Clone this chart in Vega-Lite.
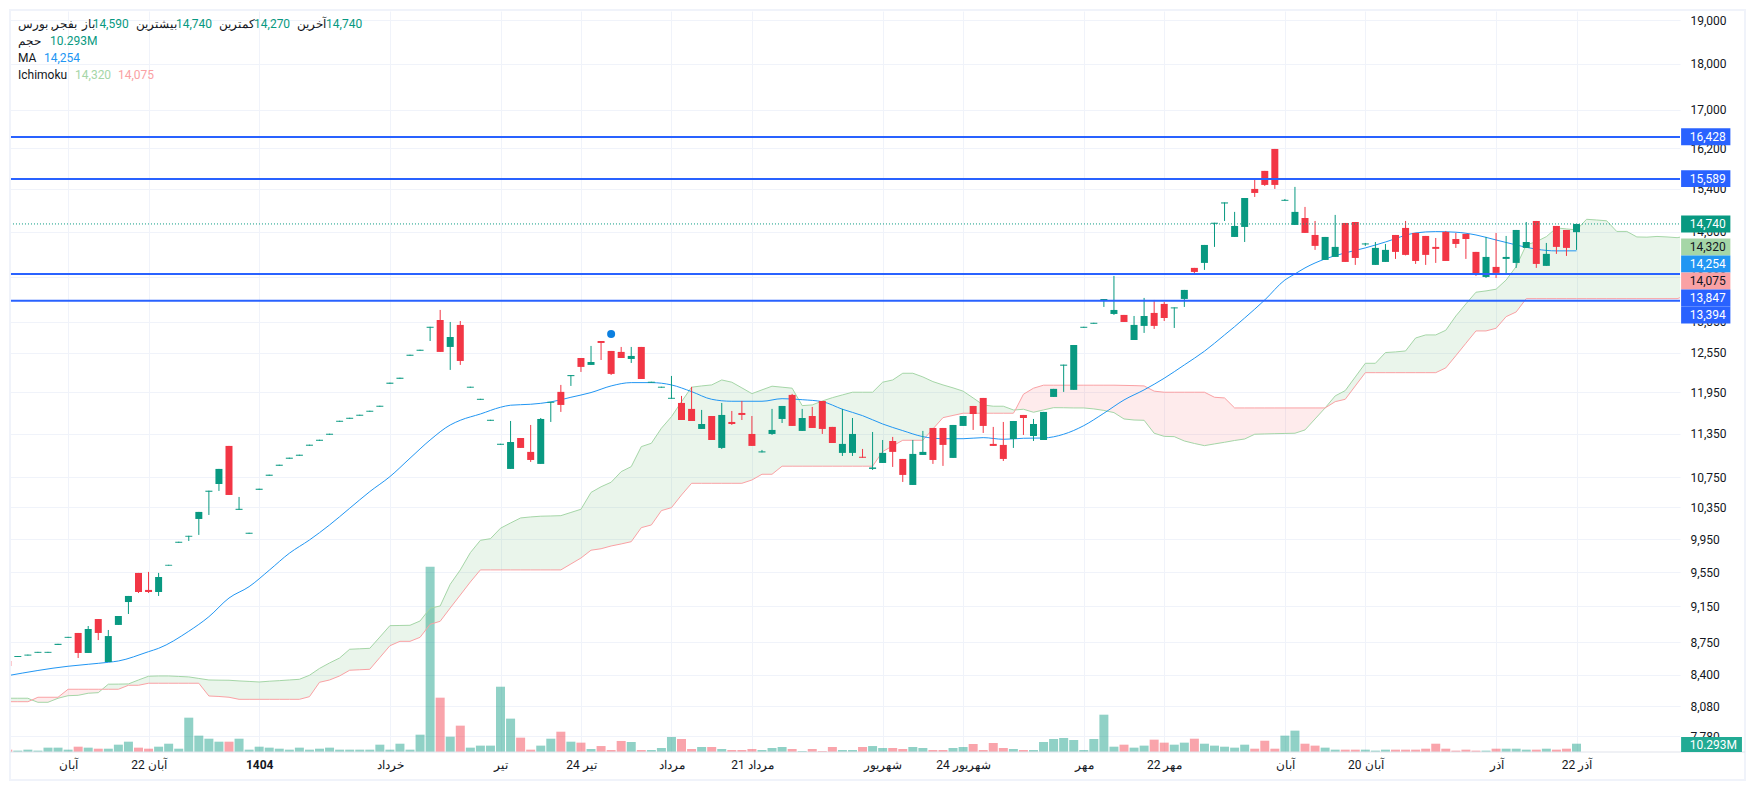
{
"$schema":"https://vega.github.io/schema/vega-lite/v6.json",
"width":1670,"height":741,"autosize":"none",
"padding":{"left":10,"top":11,"right":77,"bottom":38},
"background":"#ffffff",
"config":{"view":{"stroke":null},"font":"Roboto"},
"datasets":{
"candles":[
{"i":0,"o":8546,"h":8546,"l":8494,"c":8494,"v":2.9,"d":"d"},
{"i":1,"o":8590,"h":8600,"l":8590,"c":8600,"v":1.7,"d":"u"},
{"i":2,"o":8605,"h":8615,"l":8605,"c":8615,"v":2.9,"d":"u"},
{"i":3,"o":8635,"h":8645,"l":8635,"c":8645,"v":1.7,"d":"u"},
{"i":4,"o":8635,"h":8645,"l":8635,"c":8645,"v":5.4,"d":"u"},
{"i":5,"o":8720,"h":8732,"l":8720,"c":8732,"v":5.4,"d":"u"},
{"i":6,"o":8798,"h":8808,"l":8798,"c":8808,"v":2.9,"d":"u"},
{"i":7,"o":8851,"h":8851,"l":8579,"c":8633,"v":6.6,"d":"d"},
{"i":8,"o":8633,"h":8928,"l":8633,"c":8895,"v":5.4,"d":"u"},
{"i":9,"o":9006,"h":9006,"l":8773,"c":8851,"v":4.1,"d":"d"},
{"i":10,"o":8536,"h":8884,"l":8536,"c":8817,"v":4.1,"d":"u"},
{"i":11,"o":8940,"h":9040,"l":8940,"c":9040,"v":9.1,"d":"u"},
{"i":12,"o":9199,"h":9269,"l":9063,"c":9269,"v":12.8,"d":"u"},
{"i":13,"o":9539,"h":9539,"l":9303,"c":9315,"v":5.4,"d":"d"},
{"i":14,"o":9339,"h":9551,"l":9303,"c":9315,"v":4.1,"d":"d"},
{"i":15,"o":9315,"h":9539,"l":9269,"c":9491,"v":6.6,"d":"u"},
{"i":16,"o":9626,"h":9636,"l":9626,"c":9636,"v":10.3,"d":"u"},
{"i":17,"o":9905,"h":9917,"l":9905,"c":9917,"v":4.1,"d":"u"},
{"i":18,"o":9980,"h":9991,"l":9927,"c":9991,"v":42.6,"d":"u"},
{"i":19,"o":10203,"h":10293,"l":10002,"c":10293,"v":20.3,"d":"u"},
{"i":20,"o":10555,"h":10569,"l":10254,"c":10569,"v":16.5,"d":"u"},
{"i":21,"o":10658,"h":10860,"l":10566,"c":10860,"v":12.8,"d":"u"},
{"i":22,"o":11176,"h":11176,"l":10513,"c":10513,"v":12.8,"d":"d"},
{"i":23,"o":10320,"h":10487,"l":10320,"c":10333,"v":16.5,"d":"u"},
{"i":24,"o":10017,"h":10029,"l":10017,"c":10029,"v":2.9,"d":"u"},
{"i":25,"o":10581,"h":10595,"l":10581,"c":10595,"v":6.6,"d":"u"},
{"i":26,"o":10768,"h":10782,"l":10768,"c":10782,"v":5.4,"d":"u"},
{"i":27,"o":10903,"h":10917,"l":10903,"c":10917,"v":4.1,"d":"u"},
{"i":28,"o":10999,"h":11013,"l":10999,"c":11013,"v":2.9,"d":"u"},
{"i":29,"o":11040,"h":11054,"l":11040,"c":11054,"v":5.4,"d":"u"},
{"i":30,"o":11179,"h":11193,"l":11179,"c":11193,"v":2.9,"d":"u"},
{"i":31,"o":11248,"h":11262,"l":11248,"c":11262,"v":4.1,"d":"u"},
{"i":32,"o":11333,"h":11347,"l":11333,"c":11347,"v":5.4,"d":"u"},
{"i":33,"o":11518,"h":11532,"l":11518,"c":11532,"v":2.9,"d":"u"},
{"i":34,"o":11561,"h":11575,"l":11561,"c":11575,"v":2.9,"d":"u"},
{"i":35,"o":11605,"h":11619,"l":11605,"c":11619,"v":2.9,"d":"u"},
{"i":36,"o":11663,"h":11677,"l":11663,"c":11677,"v":2.9,"d":"u"},
{"i":37,"o":11736,"h":11750,"l":11736,"c":11750,"v":9.1,"d":"u"},
{"i":38,"o":12077,"h":12093,"l":12077,"c":12093,"v":2.9,"d":"u"},
{"i":39,"o":12152,"h":12168,"l":12152,"c":12168,"v":10.3,"d":"u"},
{"i":40,"o":12506,"h":12522,"l":12506,"c":12522,"v":2.9,"d":"u"},
{"i":41,"o":12584,"h":12600,"l":12584,"c":12600,"v":21.5,"d":"u"},
{"i":42,"o":12950,"h":12966,"l":12738,"c":12966,"v":230,"d":"u"},
{"i":43,"o":13076,"h":13241,"l":12566,"c":12566,"v":67.4,"d":"d"},
{"i":44,"o":12644,"h":13044,"l":12287,"c":12802,"v":19,"d":"u"},
{"i":45,"o":12996,"h":13060,"l":12364,"c":12425,"v":32.7,"d":"d"},
{"i":46,"o":12018,"h":12032,"l":12018,"c":12032,"v":5.4,"d":"u"},
{"i":47,"o":11838,"h":11852,"l":11838,"c":11852,"v":7.9,"d":"u"},
{"i":48,"o":11532,"h":11546,"l":11532,"c":11546,"v":7.9,"d":"u"},
{"i":49,"o":11192,"h":11206,"l":11192,"c":11206,"v":81,"d":"u"},
{"i":50,"o":10860,"h":11529,"l":10860,"c":11231,"v":41.4,"d":"u"},
{"i":51,"o":11287,"h":11287,"l":11148,"c":11148,"v":17.8,"d":"d"},
{"i":52,"o":11093,"h":11472,"l":10955,"c":10982,"v":2.9,"d":"d"},
{"i":53,"o":10928,"h":11572,"l":10928,"c":11558,"v":7.9,"d":"u"},
{"i":54,"o":11794,"h":11808,"l":11515,"c":11808,"v":16.5,"d":"u"},
{"i":55,"o":11955,"h":12059,"l":11660,"c":11762,"v":25.2,"d":"d"},
{"i":56,"o":12192,"h":12208,"l":12044,"c":12208,"v":12.8,"d":"u"},
{"i":57,"o":12471,"h":12471,"l":12256,"c":12333,"v":11.6,"d":"d"},
{"i":58,"o":12364,"h":12660,"l":12364,"c":12409,"v":3.7,"d":"u"},
{"i":59,"o":12738,"h":12738,"l":12440,"c":12707,"v":7.4,"d":"d"},
{"i":60,"o":12581,"h":12581,"l":12210,"c":12226,"v":2.5,"d":"d"},
{"i":61,"o":12566,"h":12644,"l":12471,"c":12471,"v":13.7,"d":"d"},
{"i":62,"o":12456,"h":12644,"l":12394,"c":12503,"v":12.4,"d":"u"},
{"i":63,"o":12644,"h":12644,"l":12149,"c":12149,"v":2.5,"d":"d"},
{"i":64,"o":12093,"h":12107,"l":12093,"c":12107,"v":2.5,"d":"u"},
{"i":65,"o":12018,"h":12032,"l":12018,"c":12032,"v":5,"d":"u"},
{"i":66,"o":11853,"h":12195,"l":11853,"c":11867,"v":18.6,"d":"u"},
{"i":67,"o":11791,"h":11895,"l":11543,"c":11543,"v":16.1,"d":"d"},
{"i":68,"o":11704,"h":12030,"l":11529,"c":11529,"v":3.7,"d":"d"},
{"i":69,"o":11415,"h":11689,"l":11415,"c":11486,"v":6.2,"d":"u"},
{"i":70,"o":11601,"h":11601,"l":11259,"c":11259,"v":6.2,"d":"d"},
{"i":71,"o":11148,"h":11791,"l":11134,"c":11616,"v":3.7,"d":"u"},
{"i":72,"o":11515,"h":11674,"l":11472,"c":11486,"v":2.5,"d":"d"},
{"i":73,"o":11645,"h":11820,"l":11543,"c":11616,"v":2.5,"d":"d"},
{"i":74,"o":11344,"h":11601,"l":11176,"c":11176,"v":3.7,"d":"d"},
{"i":75,"o":11086,"h":11120,"l":11086,"c":11100,"v":2.5,"d":"u"},
{"i":76,"o":11344,"h":11704,"l":11330,"c":11401,"v":5,"d":"u"},
{"i":77,"o":11558,"h":11747,"l":11500,"c":11747,"v":6.2,"d":"u"},
{"i":78,"o":11910,"h":11925,"l":11458,"c":11458,"v":3.7,"d":"d"},
{"i":79,"o":11387,"h":11704,"l":11387,"c":11572,"v":1.2,"d":"u"},
{"i":80,"o":11601,"h":11733,"l":11429,"c":11429,"v":3.7,"d":"d"},
{"i":81,"o":11820,"h":11820,"l":11344,"c":11415,"v":1.2,"d":"d"},
{"i":82,"o":11444,"h":11444,"l":11217,"c":11217,"v":6.2,"d":"d"},
{"i":83,"o":11079,"h":11704,"l":11037,"c":11204,"v":2.5,"d":"u"},
{"i":84,"o":11079,"h":11572,"l":11037,"c":11344,"v":2.5,"d":"u"},
{"i":85,"o":11026,"h":11134,"l":11012,"c":11012,"v":6.2,"d":"d"},
{"i":86,"o":10860,"h":11372,"l":10846,"c":10880,"v":7.4,"d":"u"},
{"i":87,"o":10941,"h":11259,"l":10941,"c":11079,"v":5,"d":"u"},
{"i":88,"o":11245,"h":11302,"l":10887,"c":11093,"v":5,"d":"d"},
{"i":89,"o":10996,"h":10996,"l":10685,"c":10779,"v":3.7,"d":"d"},
{"i":90,"o":10645,"h":11259,"l":10645,"c":11065,"v":6.2,"d":"u"},
{"i":91,"o":11051,"h":11387,"l":11051,"c":11093,"v":5,"d":"u"},
{"i":92,"o":11429,"h":11429,"l":10928,"c":10982,"v":2.5,"d":"d"},
{"i":93,"o":11429,"h":11429,"l":10901,"c":11190,"v":2.5,"d":"d"},
{"i":94,"o":11010,"h":11472,"l":11010,"c":11472,"v":5,"d":"u"},
{"i":95,"o":11458,"h":11601,"l":11458,"c":11601,"v":6.2,"d":"u"},
{"i":96,"o":11747,"h":11747,"l":11401,"c":11630,"v":9.9,"d":"d"},
{"i":97,"o":11865,"h":11865,"l":11358,"c":11458,"v":2.5,"d":"d"},
{"i":98,"o":11204,"h":11444,"l":11176,"c":11176,"v":11.2,"d":"d"},
{"i":99,"o":11190,"h":11515,"l":10968,"c":10996,"v":5,"d":"d"},
{"i":100,"o":11273,"h":11529,"l":11148,"c":11529,"v":3.7,"d":"u"},
{"i":101,"o":11616,"h":11616,"l":11330,"c":11572,"v":2.5,"d":"d"},
{"i":102,"o":11316,"h":11558,"l":11245,"c":11486,"v":2.5,"d":"u"},
{"i":103,"o":11259,"h":11660,"l":11259,"c":11660,"v":12.4,"d":"u"},
{"i":104,"o":11880,"h":12000,"l":11880,"c":12000,"v":16.1,"d":"u"},
{"i":105,"o":12352,"h":12368,"l":11955,"c":12368,"v":17.4,"d":"u"},
{"i":106,"o":11985,"h":12675,"l":11985,"c":12675,"v":14.9,"d":"u"},
{"i":107,"o":12950,"h":12966,"l":12950,"c":12966,"v":2.5,"d":"u"},
{"i":108,"o":13015,"h":13031,"l":13015,"c":13031,"v":16.1,"d":"u"},
{"i":109,"o":13407,"h":13423,"l":13291,"c":13423,"v":46.3,"d":"u"},
{"i":110,"o":13175,"h":13815,"l":13159,"c":13241,"v":6.6,"d":"u"},
{"i":111,"o":13159,"h":13159,"l":13044,"c":13044,"v":9.1,"d":"d"},
{"i":112,"o":12754,"h":13142,"l":12754,"c":12996,"v":5.4,"d":"u"},
{"i":113,"o":12980,"h":13441,"l":12867,"c":13142,"v":7.9,"d":"u"},
{"i":114,"o":13192,"h":13407,"l":12931,"c":12980,"v":15.3,"d":"d"},
{"i":115,"o":13341,"h":13374,"l":13060,"c":13109,"v":11.6,"d":"d"},
{"i":116,"o":13267,"h":13283,"l":12947,"c":13283,"v":9.1,"d":"u"},
{"i":117,"o":13424,"h":13576,"l":13291,"c":13576,"v":11.6,"d":"u"},
{"i":118,"o":13954,"h":13954,"l":13849,"c":13884,"v":16.5,"d":"d"},
{"i":119,"o":14041,"h":14359,"l":13919,"c":14359,"v":10.3,"d":"u"},
{"i":120,"o":14744,"h":14762,"l":14324,"c":14762,"v":7.9,"d":"u"},
{"i":121,"o":15121,"h":15141,"l":14795,"c":15141,"v":6.6,"d":"u"},
{"i":122,"o":14503,"h":14963,"l":14503,"c":14703,"v":5.4,"d":"u"},
{"i":123,"o":14685,"h":15225,"l":14412,"c":15225,"v":9.1,"d":"u"},
{"i":124,"o":15398,"h":15571,"l":15245,"c":15321,"v":4.1,"d":"d"},
{"i":125,"o":15748,"h":15748,"l":15456,"c":15475,"v":14,"d":"d"},
{"i":126,"o":16185,"h":16185,"l":15398,"c":15475,"v":4.1,"d":"d"},
{"i":127,"o":15172,"h":15206,"l":15172,"c":15190,"v":20.3,"d":"u"},
{"i":128,"o":14722,"h":15437,"l":14722,"c":14963,"v":26.5,"d":"u"},
{"i":129,"o":14850,"h":15056,"l":14576,"c":14576,"v":10.3,"d":"d"},
{"i":130,"o":14539,"h":14795,"l":14271,"c":14342,"v":7.9,"d":"d"},
{"i":131,"o":14093,"h":14503,"l":14093,"c":14503,"v":5.4,"d":"u"},
{"i":132,"o":14146,"h":14907,"l":14146,"c":14324,"v":2.9,"d":"u"},
{"i":133,"o":14758,"h":14758,"l":14058,"c":14058,"v":2.9,"d":"d"},
{"i":134,"o":14776,"h":14776,"l":14006,"c":14128,"v":2.9,"d":"d"},
{"i":135,"o":14368,"h":14395,"l":14342,"c":14386,"v":2.9,"d":"u"},
{"i":136,"o":14006,"h":14412,"l":14006,"c":14306,"v":1.7,"d":"u"},
{"i":137,"o":14058,"h":14377,"l":14058,"c":14271,"v":2.9,"d":"u"},
{"i":138,"o":14539,"h":14539,"l":14111,"c":14235,"v":2.9,"d":"d"},
{"i":139,"o":14667,"h":14795,"l":14173,"c":14182,"v":2.9,"d":"d"},
{"i":140,"o":14576,"h":14576,"l":14023,"c":14075,"v":2.9,"d":"d"},
{"i":141,"o":14521,"h":14521,"l":14006,"c":14182,"v":4.1,"d":"d"},
{"i":142,"o":14324,"h":14484,"l":14041,"c":14289,"v":10.3,"d":"d"},
{"i":143,"o":14594,"h":14612,"l":14075,"c":14075,"v":4.1,"d":"d"},
{"i":144,"o":14466,"h":14576,"l":14306,"c":14377,"v":1.7,"d":"d"},
{"i":145,"o":14558,"h":14558,"l":14111,"c":14466,"v":2.9,"d":"d"},
{"i":146,"o":14235,"h":14235,"l":13815,"c":13849,"v":1.7,"d":"d"},
{"i":147,"o":13797,"h":14503,"l":13780,"c":14146,"v":1.7,"d":"u"},
{"i":148,"o":13971,"h":14576,"l":13780,"c":13867,"v":4.1,"d":"d"},
{"i":149,"o":14111,"h":14521,"l":13849,"c":14146,"v":4.1,"d":"u"},
{"i":150,"o":14041,"h":14630,"l":13954,"c":14630,"v":4.1,"d":"u"},
{"i":151,"o":14306,"h":14776,"l":14306,"c":14412,"v":2.9,"d":"u"},
{"i":152,"o":14795,"h":14795,"l":13954,"c":14023,"v":2.9,"d":"d"},
{"i":153,"o":13989,"h":14395,"l":13989,"c":14200,"v":4.1,"d":"u"},
{"i":154,"o":14703,"h":14703,"l":14200,"c":14324,"v":2.9,"d":"d"},
{"i":155,"o":14630,"h":14630,"l":14164,"c":14306,"v":4.1,"d":"d"},
{"i":156,"o":14590,"h":14740,"l":14270,"c":14740,"v":10.293,"d":"u"}
],
"cloud":[
{"i":0,"a":8159,"b":8124},{"i":1,"a":8159,"b":8124},{"i":2,"a":8159,"b":8124},{"i":2.4,"a":8141,"b":8141},{"i":3,"a":8118,"b":8169},{"i":4,"a":8118,"b":8169},{"i":5,"a":8159,"b":8169},{"i":6,"a":8185,"b":8251},{"i":7,"a":8189,"b":8251},{"i":8,"a":8210,"b":8251},{"i":9,"a":8216,"b":8251},{"i":9.4,"a":8251,"b":8251},
{"i":10,"a":8303,"b":8251},{"i":11,"a":8304,"b":8251},{"i":12,"a":8306,"b":8292},{"i":13,"a":8347,"b":8292},{"i":14,"a":8386,"b":8313},{"i":15,"a":8389,"b":8313},{"i":16,"a":8389,"b":8313},{"i":17,"a":8384,"b":8313},{"i":18,"a":8379,"b":8313},{"i":19,"a":8363,"b":8313},
{"i":20,"a":8347,"b":8182},{"i":21,"a":8345,"b":8177},{"i":22,"a":8344,"b":8169},{"i":23,"a":8337,"b":8148},{"i":24,"a":8332,"b":8148},{"i":25,"a":8326,"b":8148},{"i":26,"a":8334,"b":8148},{"i":27,"a":8340,"b":8148},{"i":28,"a":8347,"b":8148},{"i":29,"a":8354,"b":8148},
{"i":30,"a":8396,"b":8175},{"i":31,"a":8468,"b":8323},{"i":32,"a":8526,"b":8347},{"i":33,"a":8579,"b":8389},{"i":34,"a":8673,"b":8449},{"i":35,"a":8678,"b":8454},{"i":36,"a":8683,"b":8459},{"i":37,"a":8806,"b":8584},{"i":38,"a":8932,"b":8711},{"i":39,"a":8934,"b":8759},
{"i":40,"a":8936,"b":8759},{"i":41,"a":8984,"b":8803},{"i":42,"a":9128,"b":8947},{"i":43,"a":9154,"b":8981},{"i":44,"a":9405,"b":9131},{"i":45,"a":9575,"b":9280},{"i":46,"a":9783,"b":9432},{"i":47,"a":9935,"b":9575},{"i":48,"a":9955,"b":9575},{"i":49,"a":10086,"b":9575},
{"i":50,"a":10152,"b":9575},{"i":51,"a":10216,"b":9575},{"i":52,"a":10229,"b":9575},{"i":53,"a":10238,"b":9575},{"i":54,"a":10241,"b":9575},{"i":55,"a":10245,"b":9575},{"i":56,"a":10286,"b":9646},{"i":57,"a":10327,"b":9718},{"i":58,"a":10546,"b":9813},{"i":59,"a":10621,"b":9831},
{"i":60,"a":10681,"b":9865},{"i":61,"a":10823,"b":9890},{"i":62,"a":10891,"b":9918},{"i":63,"a":11166,"b":10093},{"i":64,"a":11213,"b":10127},{"i":65,"a":11425,"b":10310},{"i":66,"a":11591,"b":10348},{"i":67,"a":11810,"b":10513},{"i":68,"a":12025,"b":10667},{"i":69,"a":12044,"b":10667},
{"i":70,"a":12059,"b":10667},{"i":71,"a":12134,"b":10667},{"i":72,"a":12100,"b":10667},{"i":73,"a":12015,"b":10667},{"i":74,"a":11929,"b":10711},{"i":75,"a":11985,"b":10788},{"i":76,"a":12040,"b":10788},{"i":77,"a":12025,"b":10897},{"i":78,"a":12010,"b":10897},{"i":79,"a":11752,"b":10897},
{"i":80,"a":11762,"b":10897},{"i":81,"a":11820,"b":10897},{"i":82,"a":11869,"b":10897},{"i":83,"a":11910,"b":10897},{"i":84,"a":11950,"b":10897},{"i":85,"a":11950,"b":10897},{"i":86,"a":11950,"b":10897},{"i":87,"a":12100,"b":11097},{"i":88,"a":12134,"b":11176},{"i":89,"a":12236,"b":11255},
{"i":90,"a":12236,"b":11255},{"i":91,"a":12180,"b":11255},{"i":92,"a":12109,"b":11415},{"i":93,"a":12059,"b":11577},{"i":94,"a":12015,"b":11609},{"i":95,"a":11966,"b":11641},{"i":96,"a":11865,"b":11641},{"i":97,"a":11762,"b":11641},{"i":98,"a":11743,"b":11641},{"i":99,"a":11743,"b":11641},
{"i":100,"a":11689,"b":11641},{"i":100.2,"a":11689,"b":11689},{"i":101,"a":11699,"b":11920},{"i":102,"a":11655,"b":12010},{"i":103,"a":11689,"b":12055},{"i":104,"a":11722,"b":12055},{"i":105,"a":11721,"b":12055},{"i":106,"a":11718,"b":12055},{"i":107,"a":11718,"b":12055},{"i":108,"a":11704,"b":12055},{"i":109,"a":11682,"b":12055},
{"i":110,"a":11650,"b":12055},{"i":111,"a":11558,"b":12052},{"i":112,"a":11543,"b":12049},{"i":113,"a":11539,"b":12044},{"i":114,"a":11354,"b":11966},{"i":115,"a":11310,"b":11950},{"i":116,"a":11306,"b":11950},{"i":117,"a":11245,"b":11950},{"i":118,"a":11210,"b":11950},{"i":119,"a":11180,"b":11950},
{"i":120,"a":11204,"b":11875},{"i":121,"a":11227,"b":11865},{"i":122,"a":11252,"b":11718},{"i":123,"a":11273,"b":11718},{"i":124,"a":11340,"b":11718},{"i":125,"a":11344,"b":11718},{"i":126,"a":11348,"b":11718},{"i":127,"a":11351,"b":11718},{"i":128,"a":11354,"b":11718},{"i":129,"a":11401,"b":11718},
{"i":130,"a":11558,"b":11718},{"i":131,"a":11718,"b":11718},{"i":132,"a":11895,"b":11810},{"i":133,"a":11974,"b":11845},{"i":134,"a":12180,"b":12044},{"i":135,"a":12389,"b":12245},{"i":136,"a":12389,"b":12245},{"i":137,"a":12556,"b":12245},{"i":138,"a":12566,"b":12245},{"i":139,"a":12581,"b":12245},
{"i":140,"a":12786,"b":12245},{"i":141,"a":12835,"b":12245},{"i":142,"a":12835,"b":12245},{"i":143,"a":12910,"b":12318},{"i":144,"a":13142,"b":12507},{"i":145,"a":13341,"b":12702},{"i":146,"a":13537,"b":12899},{"i":147,"a":13559,"b":12899},{"i":148,"a":13588,"b":12942},{"i":149,"a":13745,"b":13131},
{"i":150,"a":13977,"b":13208},{"i":151,"a":14359,"b":13429},{"i":152,"a":14418,"b":13429},{"i":153,"a":14508,"b":13429},{"i":154,"a":14667,"b":13429},{"i":155,"a":14649,"b":13429},{"i":156,"a":14630,"b":13429},{"i":157,"a":14826,"b":13429},{"i":158,"a":14813,"b":13429},{"i":159,"a":14798,"b":13429},
{"i":160,"a":14603,"b":13429},{"i":161,"a":14603,"b":13429},{"i":162,"a":14503,"b":13429},{"i":163,"a":14499,"b":13429},{"i":164,"a":14512,"b":13429},{"i":165,"a":14503,"b":13429},{"i":166,"a":14490,"b":13429},{"i":167,"a":14521,"b":13480}
],
"ma":[
{"i":0,"m":8392},{"i":6,"m":8491},{"i":8,"m":8512},{"i":10,"m":8533},{"i":11,"m":8547},{"i":14,"m":8647},{"i":15,"m":8683},{"i":18,"m":8870},{"i":20,"m":9032},{"i":22,"m":9245},{"i":24,"m":9377},{"i":26,"m":9571},{"i":28,"m":9776},{"i":30,"m":9939},{"i":32,"m":10127},{"i":34,"m":10340},{"i":36,"m":10557},{"i":38,"m":10756},{"i":40,"m":11006},{"i":42,"m":11259},{"i":44,"m":11472},{"i":45,"m":11539},{"i":47,"m":11630},{"i":49,"m":11728},{"i":50,"m":11758},{"i":52,"m":11772},{"i":54,"m":11806},{"i":56,"m":11875},{"i":58,"m":11945},{"i":60,"m":12044},{"i":62,"m":12094},{"i":64,"m":12094},{"i":66,"m":12059},{"i":68,"m":11959},{"i":70,"m":11845},{"i":72,"m":11816},{"i":75,"m":11816},{"i":77,"m":11854},{"i":79,"m":11839},{"i":81,"m":11810},{"i":83,"m":11699},{"i":85,"m":11606},{"i":87,"m":11486},{"i":89,"m":11391},{"i":91,"m":11306},{"i":93,"m":11277},{"i":95,"m":11277},{"i":97,"m":11292},{"i":99,"m":11269},{"i":101,"m":11283},{"i":103,"m":11287},{"i":105,"m":11340},{"i":107,"m":11462},{"i":109,"m":11641},{"i":111,"m":11835},{"i":113,"m":11985},{"i":115,"m":12160},{"i":117,"m":12364},{"i":119,"m":12577},{"i":121,"m":12835},{"i":122,"m":12968},{"i":123,"m":13109},{"i":125,"m":13407},{"i":127,"m":13745},{"i":128,"m":13849},{"i":129,"m":13954},{"i":131,"m":14111},{"i":133,"m":14217},{"i":135,"m":14306},{"i":137,"m":14412},{"i":140,"m":14576},{"i":142,"m":14600},{"i":144,"m":14589},{"i":146,"m":14539},{"i":148,"m":14448},{"i":150,"m":14359},{"i":152,"m":14283},{"i":154,"m":14253},{"i":156,"m":14254}
],
"levels":[
{"i":0.22,"i2":166.29,"p":16428},{"i":0.22,"i2":166.29,"p":15589},{"i":0.22,"i2":166.29,"p":13847},{"i":0.22,"i2":166.29,"p":13394}
],
"tags":[
{"i":166.4,"i2":171.3,"xt":167.25,"top":16610,"bottom":16262,"mid":16428,"label":"16,428","kind":"level"},
{"i":166.4,"i2":171.3,"xt":167.25,"top":15763,"bottom":15433,"mid":15589,"label":"15,589","kind":"level"},
{"i":166.4,"i2":171.3,"xt":167.25,"top":14897,"bottom":14585,"mid":14740,"label":"14,740","kind":"value"},
{"i":166.4,"i2":171.3,"xt":167.25,"top":14475,"bottom":14173,"mid":14324,"label":"14,320","kind":"spanA"},
{"i":166.4,"i2":171.3,"xt":167.25,"top":14173,"bottom":13875,"mid":14023,"label":"14,254","kind":"ma"},
{"i":166.4,"i2":171.3,"xt":167.25,"top":13875,"bottom":13584,"mid":13728,"label":"14,075","kind":"spanB"},
{"i":166.4,"i2":171.3,"xt":167.25,"top":13584,"bottom":13299,"mid":13441,"label":"13,847","kind":"level"},
{"i":166.4,"i2":171.3,"xt":167.25,"top":13299,"bottom":13020,"mid":13159,"label":"13,394","kind":"level"}
],
"header":[
{"i":1.02,"p":18915,"label":"بفجر, بورس","kind":"label"},
{"i":7.38,"p":18915,"label":"باز","kind":"label"},
{"i":8.44,"p":18915,"label":"14,590","kind":"value"},
{"i":12.75,"p":18915,"label":"بیشترین","kind":"label"},
{"i":16.73,"p":18915,"label":"14,740","kind":"value"},
{"i":21.0,"p":18915,"label":"کمترین","kind":"label"},
{"i":24.49,"p":18915,"label":"14,270","kind":"value"},
{"i":28.76,"p":18915,"label":"آخرین","kind":"label"},
{"i":31.65,"p":18915,"label":"14,740","kind":"value"},
{"i":1.02,"p":18518,"label":"حجم","kind":"label"},
{"i":4.2,"p":18518,"label":"10.293M","kind":"value"},
{"i":1.02,"p":18130,"label":"MA","kind":"label"},
{"i":3.6,"p":18130,"label":"14,254","kind":"ma"},
{"i":1.02,"p":17750,"label":"Ichimoku","kind":"label"},
{"i":6.69,"p":17750,"label":"14,320","kind":"spanA"},
{"i":10.96,"p":17750,"label":"14,075","kind":"spanB"}
]
},
"encoding":{
"x":{"field":"i","type":"quantitative","title":null,
"scale":{"domain":[0.2228,166.29],"nice":false,"zero":false,"padding":0},
"axis":{"values":[6,14,25,38,49,57,66,74,87,95,107,115,127,135,148,156],
"labelExpr":"{'6':'آبان','14':'آبان 22','25':'1404','38':'خرداد','49':'تیر','57':'تیر 24','66':'مرداد','74':'مرداد 21','87':'شهریور','95':'شهریور 24','107':'مهر','115':'مهر 22','127':'آبان','135':'آبان 20','148':'آذر','156':'آذر 22'}[datum.value]",
"grid":true,"gridColor":"#f0f3fa","domain":false,"ticks":false,"labelPadding":7,"labelFontSize":12,"labelFont":"Roboto","labelColor":"#131722","labelOverlap":false,"labelBound":false,"labelFlush":false,
"labelFontWeight":{"condition":{"test":"datum.value==25","value":"bold"},"value":"normal"}}}
},
"layer":[
{"layer":[
{"data":{"name":"candles"},"mark":{"type":"bar","width":9,"clip":true,"opacity":0.45},
"encoding":{"y":{"field":"v","type":"quantitative","title":null,"axis":null,"scale":{"domain":[0,919.4],"nice":false}},
"color":{"field":"d","type":"nominal","legend":null,"scale":{"domain":["u","d"],"range":["#089981","#f23645"]}}}}
]},
{"layer":[
{"data":{"name":"cloud"},"transform":[{"filter":"datum.a>=datum.b"}],"mark":{"type":"area","clip":true,"color":"#43a047","opacity":0.11},
"encoding":{"y":{"field":"a","type":"quantitative","title":null,"scale":{"type":"log","domain":[7630,19223],"nice":false},
"axis":{"orient":"right","values":[19000,18000,17000,16200,15400,14600,13800,13050,12550,11950,11350,10750,10350,9950,9550,9150,8750,8400,8080,7780],"format":",d","grid":true,"gridColor":"#f0f3fa","domain":false,"ticks":false,"labelPadding":10,"labelFontSize":12,"labelFont":"Roboto","labelColor":"#131722","labelOverlap":false,"labelBound":false,"labelFlush":false}},
"y2":{"field":"b"}}},
{"data":{"name":"cloud"},"transform":[{"filter":"datum.a<=datum.b"}],"mark":{"type":"area","clip":true,"color":"#f23645","opacity":0.1},
"encoding":{"y":{"field":"a","type":"quantitative","scale":{"type":"log","domain":[7630,19223],"nice":false}},"y2":{"field":"b"}}},
{"data":{"name":"cloud"},"mark":{"type":"line","clip":true,"color":"#a5d6a7","strokeWidth":1},
"encoding":{"y":{"field":"a","type":"quantitative","scale":{"type":"log","domain":[7630,19223],"nice":false}}}},
{"data":{"name":"cloud"},"mark":{"type":"line","clip":true,"color":"#faa1a4","strokeWidth":1},
"encoding":{"y":{"field":"b","type":"quantitative","scale":{"type":"log","domain":[7630,19223],"nice":false}}}},
{"data":{"name":"ma"},"mark":{"type":"line","clip":true,"color":"#2196f3","strokeWidth":1,"interpolate":"monotone"},
"encoding":{"y":{"field":"m","type":"quantitative","scale":{"type":"log","domain":[7630,19223],"nice":false}}}},
{"data":{"name":"candles"},"mark":{"type":"rule","clip":true,"strokeWidth":1},
"encoding":{"y":{"field":"l","type":"quantitative","scale":{"type":"log","domain":[7630,19223],"nice":false}},"y2":{"field":"h"},
"color":{"field":"d","type":"nominal","legend":null,"scale":{"domain":["u","d"],"range":["#089981","#f23645"]}}}},
{"data":{"name":"candles"},"mark":{"type":"bar","width":7,"clip":true},
"encoding":{"y":{"field":"o","type":"quantitative","scale":{"type":"log","domain":[7630,19223],"nice":false}},"y2":{"field":"c"},
"color":{"field":"d","type":"nominal","legend":null,"scale":{"domain":["u","d"],"range":["#089981","#f23645"]}}}},
{"data":{"values":[{"i":0.22,"i2":166.29,"p":14740}]},"mark":{"type":"rule","color":"#089981","strokeWidth":1,"strokeDash":[1,2]},
"encoding":{"x2":{"field":"i2"},"y":{"field":"p","type":"quantitative","scale":{"type":"log","domain":[7630,19223],"nice":false}}}},
{"data":{"name":"levels"},"mark":{"type":"rule","color":"#2962ff","strokeWidth":2},
"encoding":{"x2":{"field":"i2"},"y":{"field":"p","type":"quantitative","scale":{"type":"log","domain":[7630,19223],"nice":false}}}},
{"data":{"values":[{"i":60,"p":12850}]},"mark":{"type":"circle","size":64,"color":"#0c7fe0","opacity":1},
"encoding":{"y":{"field":"p","type":"quantitative","scale":{"type":"log","domain":[7630,19223],"nice":false}}}},
{"data":{"values":[{"i":0.22,"i2":172.75,"top":19248,"bottom":7368}]},"mark":{"type":"rect","fillOpacity":0,"stroke":"#f0f3fa","strokeWidth":2,"clip":false},
"encoding":{"x2":{"field":"i2"},"y":{"field":"top","type":"quantitative","scale":{"type":"log","domain":[7630,19223],"nice":false}},"y2":{"field":"bottom"}}},
{"data":{"values":[{"i":0.22,"i2":172.75,"p":7630}]},"mark":{"type":"rule","color":"#e0e3eb","strokeWidth":1},
"encoding":{"x2":{"field":"i2"},"y":{"field":"p","type":"quantitative","scale":{"type":"log","domain":[7630,19223],"nice":false}}}},
{"data":{"values":[{"i":166.4,"i2":172.45,"top":7774,"bottom":7630}]},"mark":{"type":"rect","color":"#22ab94"},
"encoding":{"x2":{"field":"i2"},"y":{"field":"top","type":"quantitative","scale":{"type":"log","domain":[7630,19223],"nice":false}},"y2":{"field":"bottom"}}},
{"data":{"values":[{"i":167.25,"p":7700,"label":"10.293M"}]},"mark":{"type":"text","align":"left","baseline":"middle","color":"#ffffff","fontSize":12,"font":"Roboto"},
"encoding":{"y":{"field":"p","type":"quantitative","scale":{"type":"log","domain":[7630,19223],"nice":false}},"text":{"field":"label"}}},
{"data":{"name":"tags"},"mark":{"type":"rect"},
"encoding":{"x2":{"field":"i2"},"y":{"field":"top","type":"quantitative","scale":{"type":"log","domain":[7630,19223],"nice":false}},"y2":{"field":"bottom"},
"fill":{"field":"kind","type":"nominal","legend":null,"scale":{"domain":["level","value","spanA","ma","spanB","label"],"range":["#2962ff","#089981","#a5d6a7","#2196f3","#faa1a4","#131722"]}}}},
{"data":{"name":"tags"},"mark":{"type":"text","align":"left","baseline":"middle","fontSize":12,"font":"Roboto"},
"encoding":{"x":{"field":"xt","type":"quantitative","scale":{"domain":[0.2228,166.29],"nice":false,"zero":false,"padding":0}},"y":{"field":"mid","type":"quantitative","scale":{"type":"log","domain":[7630,19223],"nice":false}},"text":{"field":"label"},
"color":{"condition":{"test":"datum.kind=='spanA'||datum.kind=='spanB'","value":"#131722"},"value":"#ffffff"}}},
{"data":{"name":"header"},"mark":{"type":"text","align":"left","baseline":"middle","fontSize":12,"font":"Roboto"},
"encoding":{"y":{"field":"p","type":"quantitative","scale":{"type":"log","domain":[7630,19223],"nice":false}},"text":{"field":"label"},
"fill":{"field":"kind","type":"nominal","legend":null,"scale":{"domain":["level","value","spanA","ma","spanB","label"],"range":["#2962ff","#089981","#a5d6a7","#2196f3","#faa1a4","#131722"]}}}}
]}
],
"resolve":{"scale":{"y":"independent"}}
}
